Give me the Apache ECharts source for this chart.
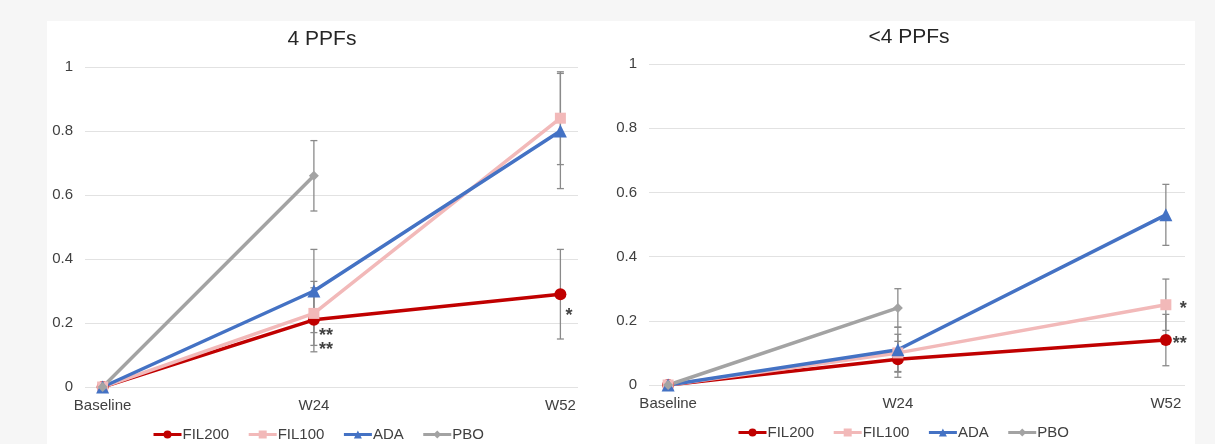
<!DOCTYPE html>
<html>
<head>
<meta charset="utf-8">
<script src="https://cdn.jsdelivr.net/npm/echarts@6/dist/echarts.min.js"></script>
<style>
html,body{margin:0;padding:0;background:#f6f6f6;}
#chart{width:1215px;height:444px;}
</style>
</head>
<body>
<div id="chart"></div>
<script>
// ---- data ----
const weeks = [0, 24, 52];
const categories = ['Baseline', 'W24', 'W52'];
const yTicks = [0, 0.2, 0.4, 0.6, 0.8, 1];
const seriesNames = ['FIL200', 'FIL100', 'ADA', 'PBO'];
const titles = ['4 PPFs', '<4 PPFs'];

// 4 PPFs panel
const left_FIL200 = [0, 0.21, 0.29];
const left_FIL100 = [0, 0.23, 0.84];
const left_ADA    = [0, 0.30, 0.80];
const left_PBO    = [0, 0.66];
const left_FIL200_err = [null, 0.10, 0.14];
const left_FIL100_err = [null, 0.10, 0.145];
const left_ADA_err    = [null, 0.13, 0.18];
const left_PBO_err    = [null, 0.11];
const left_stars = [[24, 0.172, '**'], [24, 0.127, '**'], [52, 0.233, '*']];

// <4 PPFs panel
const right_FIL200 = [0, 0.08, 0.14];
const right_FIL100 = [0, 0.10, 0.25];
const right_ADA    = [0, 0.11, 0.53];
const right_PBO    = [0, 0.24];
const right_FIL200_err = [null, 0.056, 0.08];
const right_FIL100_err = [null, 0.058, 0.08];
const right_ADA_err    = [null, 0.07, 0.095];
const right_PBO_err    = [null, 0.06];
const right_stars = [[52, 0.25, '*', 14], [52, 0.14, '**', 7]];

// ---- styles ----
const colors = { FIL200: '#C00000', FIL100: '#F2B9B9', ADA: '#4472C4', PBO: '#A3A3A3' };
const symbols = { FIL200: 'circle', FIL100: 'rect', ADA: 'triangle', PBO: 'diamond' };
const symbolSizes = { FIL200: 12, FIL100: 11, ADA: 13, PBO: 10 };
const FONT = '"Liberation Sans", Arial, sans-serif';

function pts(vals) { return vals.map((v, i) => [weeks[i], v]); }
function errPts(vals, errs) {
  const out = [];
  vals.forEach((v, i) => { if (errs[i] != null) out.push([weeks[i], v - errs[i], v + errs[i]]); });
  return out;
}

const panels = [
  { vals: { FIL200: left_FIL200, FIL100: left_FIL100, ADA: left_ADA, PBO: left_PBO },
    errs: { FIL200: left_FIL200_err, FIL100: left_FIL100_err, ADA: left_ADA_err, PBO: left_PBO_err },
    stars: left_stars },
  { vals: { FIL200: right_FIL200, FIL100: right_FIL100, ADA: right_ADA, PBO: right_PBO },
    errs: { FIL200: right_FIL200_err, FIL100: right_FIL100_err, ADA: right_ADA_err, PBO: right_PBO_err },
    stars: right_stars }
];

const series = [];
panels.forEach((p, gi) => {
  let errData = [];
  seriesNames.forEach(n => { errData = errData.concat(errPts(p.vals[n], p.errs[n])); });
  series.push({
    type: 'custom', xAxisIndex: gi, yAxisIndex: gi, z: 1, silent: true,
    data: errData,
    renderItem: function (params, api) {
      const lo = api.coord([api.value(0), api.value(1)]);
      const hi = api.coord([api.value(0), api.value(2)]);
      const w = 3.5;
      const st = { stroke: '#8a8a8a', lineWidth: 1.3 };
      return { type: 'group', children: [
        { type: 'line', shape: { x1: lo[0], y1: lo[1], x2: hi[0], y2: hi[1] }, style: st },
        { type: 'line', shape: { x1: lo[0] - w, y1: lo[1], x2: lo[0] + w, y2: lo[1] }, style: st },
        { type: 'line', shape: { x1: hi[0] - w, y1: hi[1], x2: hi[0] + w, y2: hi[1] }, style: st }
      ]};
    }
  });
  seriesNames.forEach(n => {
    series.push({
      name: n, type: 'line', xAxisIndex: gi, yAxisIndex: gi, z: 3,
      data: pts(p.vals[n]),
      symbol: symbols[n], symbolSize: symbolSizes[n], showAllSymbol: true,
      lineStyle: { width: 3.5, color: colors[n] },
      itemStyle: { color: colors[n] },
      emphasis: { disabled: true },
      animation: false
    });
  });
  series.push({
    type: 'scatter', xAxisIndex: gi, yAxisIndex: gi, z: 5, silent: true,
    symbolSize: 0,
    data: p.stars.map(s => ({ value: [s[0], s[1]], text: s[2], label: { offset: [s[3] || 5, 4] } })),
    label: {
      show: true, position: 'right', distance: 0,
      formatter: d => d.data.text,
      color: '#111', fontSize: 18, fontFamily: FONT, fontWeight: 'bold'
    }
  });
});

const xAxisBase = {
  type: 'value', min: -2, max: 54,
  axisLine: { show: false }, axisTick: { show: false }, splitLine: { show: false },
  axisLabel: {
    customValues: weeks,
    formatter: v => categories[weeks.indexOf(v)] || '',
    color: '#404040', fontSize: 15, fontFamily: FONT, margin: 11
  }
};
const yAxisBase = {
  type: 'value', min: 0, max: 1, interval: 0.2,
  axisLine: { show: false }, axisTick: { show: false },
  splitLine: { lineStyle: { color: '#e2e2e2', width: 1 } },
  axisLabel: { color: '#404040', fontSize: 15, fontFamily: FONT, margin: 12,
    formatter: v => (yTicks.indexOf(Math.round(v * 10) / 10) >= 0 ? String(Math.round(v * 10) / 10) : '') }
};

const legendBase = {
  data: seriesNames, itemWidth: 28, itemHeight: 10, itemGap: 18, padding: 0,
  lineStyle: { width: 3 },
  textStyle: { color: '#404040', fontSize: 15, fontFamily: FONT, padding: [0, 0, 0, -4] },
  selectedMode: false
};

const option = {
  animation: false,
  backgroundColor: '#f6f6f6',
  graphic: [{ type: 'rect', z: -10, shape: { x: 47, y: 21, width: 1148, height: 423 }, style: { fill: '#ffffff' } }],
  title: [
    { text: titles[0], left: 317, top: 24, textAlign: 'center',
      textStyle: { fontSize: 21, fontWeight: 'normal', color: '#262626', fontFamily: FONT } },
    { text: titles[1], left: 904, top: 22, textAlign: 'center',
      textStyle: { fontSize: 21, fontWeight: 'normal', color: '#262626', fontFamily: FONT } }
  ],
  grid: [
    { left: 85, right: 637, top: 67, bottom: 57 },
    { left: 649, right: 30, top: 64, bottom: 59 }
  ],
  xAxis: [Object.assign({ gridIndex: 0 }, xAxisBase), Object.assign({ gridIndex: 1 }, xAxisBase)],
  yAxis: [Object.assign({ gridIndex: 0 }, yAxisBase), Object.assign({ gridIndex: 1 }, yAxisBase)],
  legend: [
    Object.assign({}, legendBase, { left: 152, top: 427 }),
    Object.assign({}, legendBase, { left: 737, top: 425 })
  ],
  series: series
};

const chart = echarts.init(document.getElementById('chart'), null, { renderer: 'canvas' });
chart.setOption(option);
</script>
</body>
</html>
